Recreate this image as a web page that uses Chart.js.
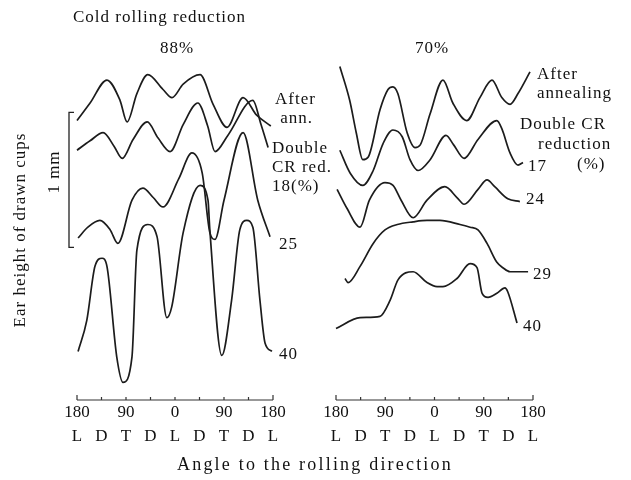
<!DOCTYPE html>
<html>
<head>
<meta charset="utf-8">
<script src="https://cdn.jsdelivr.net/npm/chart.js@4.4.0/dist/chart.umd.min.js"></script>
<style>
    body { margin: 0; background: #fff; }
    #wrap { position: relative; width: 631px; height: 480px; overflow: hidden; font-family: "Liberation Serif", "DejaVu Serif", serif; color: #111; }
    canvas { position: absolute; top: 0; }
    .t { position: absolute; font-size: 17px; line-height: 19px; white-space: nowrap; letter-spacing: 1px; }
    .rot { position: absolute; font-size: 17px; white-space: nowrap; letter-spacing: 1px; transform: translate(-50%, -50%) rotate(-90deg); }
</style>
</head>
<body>
<div id="wrap">
    <canvas id="panel88" width="315" height="480" style="left:0"></canvas>
    <canvas id="panel70" width="316" height="480" style="left:315px"></canvas>

    <div class="t" style="left:73px;top:7px">Cold rolling reduction</div>
    <div class="t" style="left:160px;top:38px">88%</div>
    <div class="t" style="left:415px;top:38px">70%</div>

    <div class="t" style="left:275px;top:89px">After<br>&nbsp;ann.</div>
    <div class="t" style="left:272px;top:138px">Double<br>CR red.<br>18(%)</div>
    <div class="t" style="left:279px;top:234px">25</div>
    <div class="t" style="left:279px;top:344px">40</div>

    <div class="t" style="left:537px;top:64px">After<br>annealing</div>
    <div class="t" style="left:520px;top:114px">Double CR</div>
    <div class="t" style="left:538px;top:134px">reduction</div>
    <div class="t" style="left:577px;top:154px">(%)</div>
    <div class="t" style="left:528px;top:156px">17</div>
    <div class="t" style="left:526px;top:189px">24</div>
    <div class="t" style="left:533px;top:264px">29</div>
    <div class="t" style="left:523px;top:316px">40</div>

    <div class="t" style="left:177px;top:455px;font-size:18px;letter-spacing:2.2px">Angle to the rolling direction</div>
    <div class="rot" style="left:20px;top:230px">Ear height of drawn cups</div>
    <div class="rot" style="left:54px;top:172px">1 mm</div>
</div>

<script>
// angle axis
const angleTicks = [-180, -135, -90, -45, 0, 45, 90, 135, 180];
const angleLabels = ['180', '', '90', '', '0', '', '90', '', '180'];
const directionLabels = ['L', 'D', 'T', 'D', 'L', 'D', 'T', 'D', 'L'];

// height range in mm (curves are shifted up for display)
const heightMax = 2.963;
const scaleBarTop = 2.13;   // 1 mm bracket

// 88% cold rolled: [angle, ear height mm]
const after88 = [[-180, 2.07], [-156, 2.20], [-125, 2.37], [-101, 2.22], [-88, 2.06], [-70, 2.27], [-50, 2.41],
    [-22, 2.30], [-5.5, 2.24], [15, 2.34], [46, 2.41], [70, 2.19], [95.5, 2.02], [125, 2.24], [150, 2.11], [176, 2.03]];
const cr18 = [[-180, 1.85], [-156, 1.92], [-132, 1.98], [-112, 1.88], [-97, 1.79], [-77, 1.93], [-51, 2.06],
    [-31, 1.94], [-9, 1.84], [15, 2.04], [42, 2.20], [60, 2.03], [73.5, 1.84], [97, 1.96], [143, 2.22], [158, 2.04], [171, 1.87]];
const cr25 = [[-178, 1.20], [-160, 1.28], [-138, 1.33], [-119, 1.26], [-105, 1.16], [-79, 1.48], [-59, 1.57],
    [-40, 1.50], [-22, 1.43], [7, 1.64], [31, 1.83], [50, 1.68], [64, 1.24], [73.5, 1.19], [90, 1.48], [125, 1.98],
    [152, 1.48], [174.5, 1.21]];
const cr40 = [[-178, 0.36], [-162, 0.59], [-147, 0.99], [-134, 1.05], [-125, 0.99], [-107, 0.32], [-95.5, 0.13],
    [-79, 0.32], [-70, 1.11], [-50, 1.30], [-33, 1.21], [-15, 0.61], [-6, 0.69], [15, 1.24], [46, 1.59], [60.6, 1.48],
    [64, 1.26], [86, 0.33], [104, 0.74], [119, 1.26], [132, 1.33], [143, 1.28], [156, 0.74], [165.5, 0.42], [178, 0.36]];

// 70% cold rolled
const after70 = [[-173, 2.47], [-155, 2.22], [-143, 1.98], [-131, 1.78], [-121, 1.80], [-99.6, 2.15], [-85, 2.30],
    [-76, 2.32], [-67, 2.27], [-50, 1.98], [-35.6, 1.87], [-26, 1.89], [-8, 2.12], [15.5, 2.37], [33.5, 2.20],
    [59, 2.07], [83, 2.24], [105, 2.37], [123, 2.24], [138, 2.19], [152.6, 2.27], [174.5, 2.43]];
const cr17 = [[-173, 1.85], [-154, 1.68], [-131, 1.59], [-112, 1.70], [-94, 1.90], [-76, 2.00], [-59, 1.95],
    [-44.8, 1.78], [-30, 1.70], [-8, 1.78], [21, 1.96], [35, 1.89], [54, 1.79], [79.5, 1.93], [114, 2.07],
    [123, 2.01], [138, 1.83], [152.6, 1.74], [161.7, 1.76]];
const cr24 = [[-178, 1.56], [-160, 1.42], [-136, 1.28], [-119, 1.48], [-90.5, 1.61], [-75.8, 1.59], [-61, 1.48],
    [-39, 1.35], [-13.7, 1.48], [19, 1.58], [41, 1.50], [54, 1.45], [79.5, 1.56], [96, 1.63], [110, 1.58],
    [134, 1.49], [156, 1.47]];
const cr29 = [[-163.6, 0.90], [-158, 0.87], [-136, 0.99], [-112, 1.16], [-90.5, 1.26], [-68, 1.30], [-39, 1.32],
    [-13.7, 1.33], [10, 1.33], [46.6, 1.30], [65, 1.28], [79.5, 1.26], [96, 1.16], [114, 1.02], [125, 0.98],
    [138, 0.95], [171, 0.95]];
const cr40b = [[-180, 0.53], [-136, 0.61], [-99.6, 0.62], [-81, 0.74], [-66.7, 0.89], [-39, 0.95], [-13.7, 0.87],
    [4.6, 0.84], [15.5, 0.84], [41, 0.90], [65, 1.01], [77.7, 0.98], [87, 0.79], [97.8, 0.76], [114, 0.79],
    [128.8, 0.83], [134, 0.80], [150.8, 0.57]];

// ruler + tick labels under each panel
const angleAxis = {
    id: 'angleAxis',
    afterDraw(chart) {
        const { ctx, scales: { x, y } } = chart;
        const y0 = y.getPixelForValue(0);
        ctx.save();
        ctx.strokeStyle = '#333';
        ctx.lineWidth = 1.2;
        ctx.beginPath();
        ctx.moveTo(x.getPixelForValue(-180), y0);
        ctx.lineTo(x.getPixelForValue(180), y0);
        angleTicks.forEach((a, i) => {
            const px = x.getPixelForValue(a);
            const len = (i === 0 || i === angleTicks.length - 1) ? 5 : 3;
            ctx.moveTo(px, y0);
            ctx.lineTo(px, y0 - len);
        });
        ctx.stroke();
        ctx.fillStyle = '#111';
        ctx.font = '17px "Liberation Serif"';
        ctx.textAlign = 'center';
        ctx.textBaseline = 'middle';
        angleTicks.forEach((a, i) => {
            const px = x.getPixelForValue(a);
            ctx.fillText(angleLabels[i], px, y0 + 13);
            ctx.fillText(directionLabels[i], px, y0 + 37);
        });
        ctx.restore();
    }
};

// 1 mm bracket, left panel only
const scaleBar = {
    id: 'scaleBar',
    afterDraw(chart) {
        const { ctx, scales: { x, y } } = chart;
        const bx = x.getPixelForValue(-180) - 8;
        const top = y.getPixelForValue(scaleBarTop);
        const bot = y.getPixelForValue(scaleBarTop - 1);
        ctx.save();
        ctx.strokeStyle = '#222';
        ctx.lineWidth = 1.3;
        ctx.beginPath();
        ctx.moveTo(bx + 5, top);
        ctx.lineTo(bx, top);
        ctx.lineTo(bx, bot);
        ctx.lineTo(bx + 5, bot);
        ctx.stroke();
        ctx.restore();
    }
};

function makePanel(id, series, padding, extra) {
    return new Chart(document.getElementById(id), {
        type: 'line',
        data: {
            datasets: series.map(s => ({
                data: s.map(([x, y]) => ({ x, y })),
                borderColor: '#1c1c1c',
                borderWidth: 1.7,
                pointRadius: 0,
                cubicInterpolationMode: 'monotone',
                fill: false,
                clip: false
            }))
        },
        options: {
            responsive: false,
            animation: false,
            devicePixelRatio: 1,
            events: [],
            layout: { padding },
            plugins: { legend: { display: false }, tooltip: { enabled: false } },
            scales: {
                x: { type: 'linear', min: -180, max: 180, display: false },
                y: { min: 0, max: heightMax, display: false }
            }
        },
        plugins: [angleAxis, ...extra]
    });
}

makePanel('panel88', [after88, cr18, cr25, cr40], { left: 77, right: 42, top: 0, bottom: 80 }, [scaleBar]);
makePanel('panel70', [after70, cr17, cr24, cr29, cr40b], { left: 21, right: 98, top: 0, bottom: 80 }, []);
</script>
</body>
</html>
